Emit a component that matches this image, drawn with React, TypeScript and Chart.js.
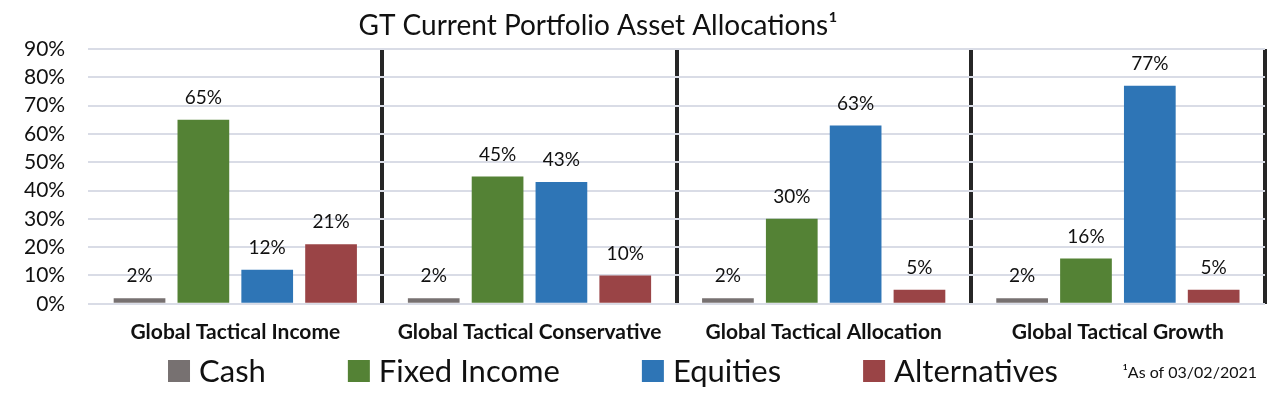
import React, { useEffect, useRef } from "react";
import { Chart, registerables } from "chart.js";

Chart.register(...registerables);

const categories = [
  "Global Tactical Income",
  "Global Tactical Conservative",
  "Global Tactical Allocation",
  "Global Tactical Growth",
];
const seriesNames = ["Cash", "Fixed Income", "Equities", "Alternatives"];
const cashValues = [2, 2, 2, 2];
const fixedIncomeValues = [65, 45, 30, 16];
const equitiesValues = [12, 43, 63, 77];
const alternativesValues = [21, 10, 5, 5];
const seriesColors = ["#777171", "#548235", "#2E75B6", "#9A4446"];
const yMax = 90;
const yStep = 10;
const titleText = "GT Current Portfolio Asset Allocations\u00B9";
const footnoteText = "\u00B9As of 03/02/2021";

const FONT = "Lato, 'Noto Sans', sans-serif";

const valueLabels = {
  id: "valueLabels",
  afterDatasetsDraw(chart: any) {
    const ctx = chart.ctx;
    ctx.save();
    ctx.font = `19px ${FONT}`;
    ctx.fillStyle = "#111";
    ctx.textAlign = "center";
    ctx.textBaseline = "middle";
    chart.data.datasets.forEach((ds: any, di: number) => {
      const meta = chart.getDatasetMeta(di);
      meta.data.forEach((el: any, i: number) => {
        ctx.fillText(`${ds.data[i]}%`, el.x, el.y - 22);
      });
    });
    ctx.restore();
  },
};

const decorations = {
  id: "decorations",
  afterDraw(chart: any) {
    const ctx = chart.ctx;
    ctx.save();
    // title
    ctx.font = `28px ${FONT}`;
    ctx.fillStyle = "#111";
    ctx.textAlign = "center";
    ctx.textBaseline = "middle";
    ctx.fillText(titleText, 598, 26);

    // legend
    const boxSize = 22;
    const gapBoxText = 9;
    const gapItems = 82;
    ctx.font = `31px ${FONT}`;
    const items = chart.data.datasets.map((ds: any) => ({
      label: ds.label,
      color: ds.backgroundColor,
      w: boxSize + gapBoxText + ctx.measureText(ds.label).width,
    }));
    const total =
      items.reduce((s: number, it: any) => s + it.w, 0) + gapItems * (items.length - 1);
    let x = 613 - total / 2;
    const cy = 371;
    items.forEach((it: any) => {
      ctx.fillStyle = it.color;
      ctx.fillRect(x, cy - boxSize / 2, boxSize, boxSize);
      ctx.fillStyle = "#111";
      ctx.textAlign = "left";
      ctx.fillText(it.label, x + boxSize + gapBoxText, cy + 1);
      x += it.w + gapItems;
    });

    // footnote
    ctx.font = `16px ${FONT}`;
    ctx.textAlign = "right";
    ctx.fillStyle = "#111";
    ctx.fillText(footnoteText, 1257, 373);
    ctx.restore();
  },
};

export default function App() {
  const canvasRef = useRef<HTMLCanvasElement | null>(null);

  useEffect(() => {
    document.body.style.margin = "0";
    const canvas = canvasRef.current;
    if (!canvas) return;
    const datasetValues = [cashValues, fixedIncomeValues, equitiesValues, alternativesValues];
    const chart = new Chart(canvas, {
      type: "bar",
      data: {
        labels: categories,
        datasets: seriesNames.map((name, i) => ({
          label: name,
          data: datasetValues[i],
          backgroundColor: seriesColors[i],
          borderWidth: 0,
          categoryPercentage: 0.868,
          barPercentage: 0.81,
        })),
      },
      options: {
        animation: false,
        responsive: false,
        maintainAspectRatio: false,
        layout: { padding: { top: 49, left: 1, right: 19, bottom: 32 } },
        plugins: {
          legend: { display: false },
          title: { display: false },
          tooltip: { enabled: false },
        },
        scales: {
          x: {
            offset: true,
            grid: {
              offset: true,
              drawTicks: false,
              lineWidth: 4,
              color: (c: any) =>
                c.index === 0 || c.index === categories.length ? "rgba(0,0,0,0)" : "#262626",
            },
            border: { display: false },
            ticks: {
              padding: 16,
              color: "#111",
              font: { family: FONT, size: 21, weight: "bold" },
            },
          },
          y: {
            min: 0,
            max: yMax,
            grid: { drawTicks: false, color: "#D9DCE6", lineWidth: 2 },
            border: { display: false },
            ticks: {
              stepSize: yStep,
              autoSkip: false,
              padding: 23,
              color: "#111",
              font: { family: FONT, size: 21 },
              callback: (v: any) => `${v}%`,
            },
          },
        },
      },
      plugins: [valueLabels, decorations],
    });
    return () => chart.destroy();
  }, []);

  return (
    <div style={{ width: 1284, height: 393 }}>
      <canvas ref={canvasRef} width={1284} height={393} style={{ display: "block" }} />
    </div>
  );
}
